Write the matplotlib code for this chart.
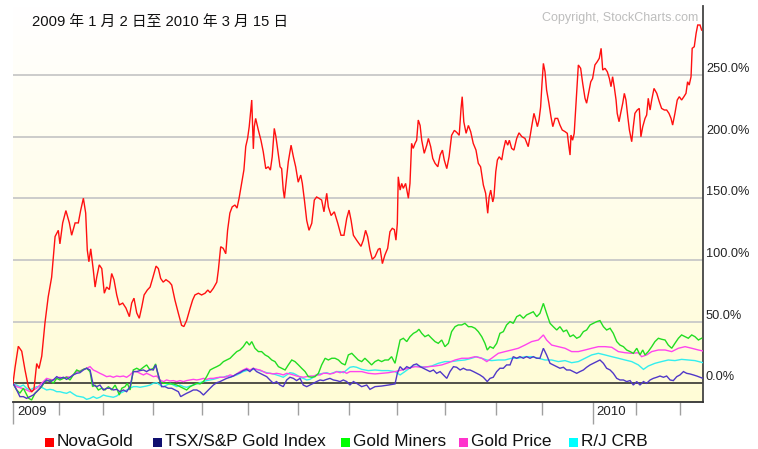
import numpy as np
import matplotlib
matplotlib.use("Agg")
import matplotlib.pyplot as plt
from matplotlib.patches import Rectangle
import matplotlib.transforms as mtransforms

plt.rcParams['font.family'] = ['Liberation Sans', 'Noto Sans CJK SC', 'DejaVu Sans']

# ---------------- data ----------------
title_text = "2009 年 1 月 2 日至 2010 年 3 月 15 日"
copyright_text = "Copyright, StockCharts.com"
series_names = ["NovaGold", "TSX/S&P Gold Index", "Gold Miners", "Gold Price", "R/J CRB"]
line_colors = ["#ff1010", "#5038c8", "#22dd22", "#ff44ee", "#33eeee"]
legend_colors = ["#ff0000", "#101070", "#00ff00", "#ff33cc", "#00ffff"]
# trading days per month, Jan 2009 .. Mar 15 2010
month_trading_days = [20, 19, 22, 21, 20, 22, 22, 21, 21, 22, 20, 22, 19, 19, 11]
year_labels = ["2009", "2010"]
year_month_index = [0, 12]
y_ticks = [0, 50, 100, 150, 200, 250]

# (trading day since 2009-01-02, % change)
novagold = [(0,0),(0.9,13),(2.3,30),(3.8,26),(5.2,11),(6.7,-3),(8.1,-7),(9.1,-5),(10.3,16),(11.3,12),(12.5,22),(13.9,49),(15.3,70),(16.8,86),(18.3,119),(19.7,124),(20.4,113),(21.6,130),(23.0,140),(24.5,130),(25.5,120),(27.0,130),(28.4,130),(29.4,140),(30.6,150),(31.6,138),(32.3,108),(33.0,98.5),(33.8,109),(34.9,92),(35.7,78),(36.4,86),(37.5,96),(38.6,93),(39.7,73),(40.7,78),(41.9,76),(42.9,89),(43.9,84),(45.1,71.6),(46.2,63.5),(47.7,65),(49.1,61),(50.6,54),(51.6,65),(52.6,69),(53.8,57),(54.9,52.7),(56.0,62),(57.0,71.6),(58.4,75.6),(59.6,78),(60.7,85),(62.2,95),(63.2,93),(64.2,85),(65.3,82),(66.5,84),(68.0,82),(69.0,79.7),(70.4,67.5),(71.9,56.7),(73.3,47),(74.3,46),(75.5,51),(77.0,60.8),(78.1,67.5),(79.1,71.6),(80.6,73),(82.0,71.6),(83.5,73),(84.7,75.6),(85.7,73.5),(87.1,77),(88.6,82),(89.3,92),(90.3,110.7),(91.4,109.4),(92.5,105),(93.3,124),(94.3,138),(95.3,143),(96.5,144.5),(97.4,142),(98.3,150),(99.4,162),(100.4,173),(101.2,192),(102.0,198.5),(102.7,208),(103.8,229.6),(104.5,190),(104.9,208),(105.5,214.7),(106.7,205),(107.8,197),(108.8,187.7),(109.9,174),(111.0,175.5),(111.9,172.8),(112.7,183.6),(113.6,206.6),(114.3,200),(115.1,189),(116.1,175.5),(116.8,174),(117.5,156.6),(118.0,150),(118.7,162),(119.7,179.6),(120.9,193),(121.9,183.6),(122.9,175.5),(124.0,163),(125.1,168.8),(125.8,162),(126.7,148.5),(127.7,132),(128.7,124),(129.9,129.7),(131.0,148.5),(132.0,151),(133.0,150),(134.2,148.5),(135.2,139),(136.4,154),(137.1,143),(138.3,136),(139.7,139),(141.2,129.7),(142.6,120),(143.9,120),(145.1,133.7),(146.1,140.4),(147.0,132),(148.0,120),(149.4,116),(151.3,111),(152.3,116),(153.3,124),(154.2,118.8),(155.2,108),(156.2,100.5),(157.4,102.6),(158.8,108.6),(159.6,109.4),(160.6,97),(161.7,104),(162.9,109.4),(163.9,122.9),(164.9,125.6),(165.8,124.6),(166.5,116),(167.1,129.7),(167.5,167.4),(168.3,156.6),(169.0,162),(169.7,158),(170.7,162),(171.9,150),(172.6,162),(173.3,194.5),(174.0,190.4),(174.8,194.5),(175.5,197),(176.2,213.4),(177.0,209),(177.7,197),(178.8,186.4),(179.9,193),(180.6,198.5),(181.6,191.8),(182.5,182.3),(183.5,178.3),(184.7,175.5),(185.7,185),(186.7,189),(187.5,181),(188.6,174),(189.6,183.6),(190.7,201),(191.9,205),(192.9,203.4),(194.0,201),(194.8,222.8),(195.3,232.3),(196.0,212),(197.0,202.6),(198.0,209),(199.0,203.9),(200.1,194.5),(201.3,189),(202.3,178.3),(203.3,175.5),(204.5,160.7),(205.5,154),(206.4,137.8),(207.0,151),(207.7,156.6),(208.6,147),(209.1,151),(209.9,171.5),(210.6,181),(211.4,183.6),(212.5,181),(213.2,189),(214.2,197),(215.1,193),(215.8,197),(216.8,190.4),(217.8,189),(219.0,198.5),(220.0,203),(221.2,200),(222.6,198.5),(224.0,191.8),(224.8,200),(225.5,208),(226.5,218.8),(227.3,213.4),(228.0,208),(228.7,213.4),(229.4,224),(230.0,243),(230.6,259.3),(231.3,252.5),(232.0,237.7),(233.0,227),(233.9,216),(234.7,208),(235.7,214.7),(236.8,214.7),(237.8,209.3),(238.8,205.3),(240.0,204),(241.0,202.6),(241.7,191.8),(242.2,185),(242.6,201.2),(243.3,197),(244.0,202.6),(244.8,227),(245.8,258),(246.8,255.3),(247.7,243),(248.7,231),(249.4,227),(250.1,233.6),(251.2,244.4),(252.0,247),(253.0,258),(254.0,260.6),(254.9,263.4),(255.7,271.5),(256.4,253.9),(257.4,255.3),(258.4,252.5),(259.3,247),(260.0,240.4),(260.7,248.5),(261.4,240.4),(262.2,229.6),(262.7,218.8),(263.5,212),(264.2,218.8),(265.1,227),(265.8,235),(266.5,229.6),(267.3,216),(268.0,205.3),(269.0,195.8),(269.7,208),(270.4,218.8),(271.4,221.5),(272.3,222.8),(273.0,199.8),(273.8,208),(274.8,214.7),(275.5,217.4),(276.2,231),(277.0,221.5),(277.7,229.6),(278.7,239),(279.9,235),(281.0,228.2),(282.0,222.8),(283.2,221.5),(284.2,221.5),(285.2,218.8),(286.1,214.7),(286.8,209.3),(287.8,218.8),(288.8,229.6),(289.7,232.3),(290.7,229.6),(291.7,232.3),(292.6,235),(293.3,244.4),(294.0,241.7),(294.8,248.5),(295.3,271.5),(296.2,272.8),(297.0,283.6),(297.7,290.4),(298.7,290.4),(299.4,286.3)]

tsx_gold = [(0,0),(1.6,-5.4),(3.0,-10.8),(4.5,-10.8),(5.9,-12.2),(7.4,-10.8),(8.8,-9.5),(10.3,-6.8),(11.7,-4),(13.2,0),(14.6,2.7),(16.1,1.4),(17.5,2.7),(19.0,5.4),(20.4,4),(21.9,4.9),(23.3,3.2),(24.8,4.9),(26.2,6.8),(27.7,8.1),(29.1,8.6),(30.6,10.8),(32.0,12.2),(33.5,10.8),(34.9,-1.4),(36.4,-2.7),(37.8,-1.4),(39.3,-5.4),(40.7,-4),(42.2,-4),(43.6,-5.4),(45.1,-4.9),(46.5,-6.8),(48.0,-5.4),(49.4,-6.8),(50.9,-2.7),(52.3,9.5),(53.8,9.5),(55.2,10.3),(56.7,10.8),(58.1,9.5),(59.6,11.3),(61.0,10.8),(62.0,14.9),(63.2,6.8),(64.6,-2.7),(66.1,-2.7),(67.5,-4),(69.0,-4),(70.4,-5.4),(71.9,-6.8),(72.9,-10.8),(74.1,-9.5),(75.5,-8.1),(77.0,-6.8),(78.4,-5.4),(79.9,-5.4),(81.3,-6.8),(82.8,-9.5),(84.2,-6.8),(85.7,-4),(87.1,-1.4),(88.6,0.5),(90.0,1.4),(91.5,2.7),(92.9,4),(94.4,4.9),(95.8,5.9),(97.3,7.6),(98.7,8.6),(100.1,10.3),(101.6,11.3),(103.0,9.5),(104.5,12.2),(105.9,9.5),(107.4,8.1),(108.8,6.8),(110.3,5.4),(111.7,2.7),(113.2,0),(114.6,1.4),(116.1,-1.4),(117.5,-2.7),(119.0,2.7),(120.4,4.9),(121.9,4),(123.3,2.2),(124.8,4),(126.2,-1.4),(127.7,-2.7),(129.1,-1.4),(130.6,0),(132.0,1.4),(133.5,2.7),(134.9,2.2),(136.4,3.2),(137.8,4),(139.3,2.7),(140.7,2.2),(142.2,1.4),(143.6,2.7),(145.1,1.4),(146.5,-1.4),(148.0,1.4),(149.4,0),(151.6,-2.7),(153.8,-1.4),(155.2,-4.9),(157.4,-2.7),(160.3,-2.2),(163.2,-1.4),(166.1,-0.5),(167.1,8.1),(168.3,13.5),(169.7,10.8),(171.2,13.5),(172.6,12.2),(174.1,14.9),(175.5,15.7),(177.0,13.5),(178.4,12.2),(179.9,10.8),(181.3,9.5),(182.8,10.8),(184.2,8.1),(185.7,9.5),(187.1,6.8),(188.6,4),(190.0,9.5),(191.5,13.5),(192.9,13),(194.4,10.8),(195.8,12.2),(197.3,10.8),(198.7,10.8),(200.2,9.5),(201.6,8.1),(203.0,6.8),(204.5,4.9),(206.2,1.4),(207.4,4),(208.8,4.9),(210.3,9.5),(211.7,12.2),(213.2,12.2),(214.6,14.9),(216.1,14.9),(217.5,21.6),(219.0,20.3),(220.4,21.6),(221.9,20.3),(223.3,21.6),(224.8,20.3),(226.2,21.6),(227.7,20.3),(229.1,20.3),(230.6,28.4),(232.0,23),(233.5,16.2),(234.9,14.9),(236.4,13.5),(237.8,12.2),(239.3,13),(240.7,10.8),(242.2,10.8),(243.6,9.5),(245.1,8.1),(246.5,9.5),(248.0,10.8),(249.4,13),(250.9,14.9),(252.3,16.2),(253.8,17.6),(255.2,18.9),(256.7,16.2),(258.1,12.2),(259.6,10.8),(261.0,8.1),(262.5,4),(263.9,2.7),(265.4,2.7),(266.8,1.4),(268.3,2.2),(269.7,-1.4),(271.2,1.4),(272.6,-1.4),(274.1,1.4),(275.5,0),(277.0,2.7),(278.4,4),(279.9,4.9),(281.3,5.9),(282.8,4.9),(284.2,5.9),(285.7,2.7),(287.1,2.2),(288.6,5.4),(290.0,6.8),(291.5,9.5),(292.9,8.1),(294.3,7.6),(295.8,6.8),(297.3,5.9),(298.7,4.9),(300.0,4)]

gold_miners = [(0,0),(1.6,-5.4),(3.0,-8),(4.5,-4),(6.7,-12),(8.1,-13.5),(9.6,-8),(11.0,-5.4),(12.5,-2.7),(13.9,1.4),(16.1,2.7),(17.5,0),(19.0,4),(20.4,2.7),(21.9,4),(23.3,4.9),(24.8,2.7),(26.2,6.8),(27.7,10.8),(29.1,9.5),(30.6,11.3),(32.0,12.2),(33.5,9.5),(34.6,-2.7),(35.7,-1.4),(37.1,-5.4),(38.6,-4),(40.0,-5.4),(41.5,-2.7),(42.9,-5.4),(44.4,-1.4),(45.4,-5.4),(46.2,-9.5),(47.3,-4),(48.7,-2.7),(49.7,0),(50.9,-5.4),(52.3,10.8),(53.8,12.2),(55.2,10.8),(56.7,13),(58.1,14.9),(59.6,10.8),(61.0,12.2),(62.0,15.7),(62.9,8.1),(63.9,1.4),(65.4,0),(66.8,0),(68.3,-0.5),(69.7,-0.5),(71.2,-1.4),(72.6,-2.7),(74.1,-4),(75.5,-5.4),(77.0,-2.7),(78.4,-1.4),(79.9,0),(81.3,-0.5),(82.8,1.4),(84.2,5.4),(85.7,10.8),(87.1,12.2),(88.6,13.5),(90.0,14.9),(91.5,17.6),(92.9,18.9),(94.4,20.3),(95.8,23),(97.3,25.7),(98.7,27),(100.1,29.7),(101.6,33.8),(102.8,31),(103.8,33.8),(105.2,28.4),(106.7,25.7),(108.1,25.7),(109.6,23),(111.0,21.6),(112.5,18.9),(113.9,17.6),(115.4,13.5),(116.8,12.2),(118.3,10.8),(119.7,14.9),(121.2,18.9),(122.6,17.6),(124.1,14.9),(125.5,12.2),(127.0,9.5),(128.4,5.4),(129.9,4.9),(131.3,5.4),(132.8,8.1),(134.2,14.9),(135.7,20.3),(137.1,18.9),(138.6,20.3),(140.0,20.3),(141.5,18.9),(142.9,16.2),(144.4,14.9),(145.8,23),(147.3,24.3),(148.7,21.6),(150.1,18.9),(151.6,17.6),(153.0,20.3),(154.5,17.6),(155.9,14.9),(157.4,17.6),(158.8,18.9),(160.3,17.6),(161.7,18.9),(163.2,18.9),(164.6,21.6),(166.1,16.2),(167.2,25.7),(168.3,35.1),(169.7,36.5),(171.2,33.8),(172.6,37.8),(174.1,40.5),(175.5,41.9),(176.5,43.8),(177.7,40.5),(179.1,37.8),(180.6,39.2),(182.0,36.5),(183.5,33.8),(184.9,32.4),(186.4,35.1),(187.8,29.7),(189.3,32.4),(190.7,41.9),(192.2,45.9),(193.6,47.3),(195.1,47.3),(196.5,48.6),(198.0,45.9),(199.4,45.9),(200.9,44.6),(202.3,41.9),(203.8,37.8),(205.2,32.4),(206.2,27),(207.4,29.7),(208.8,28.4),(210.3,32.4),(211.7,40.5),(213.2,41.9),(214.6,47.3),(216.1,50),(217.5,48.6),(219.0,54),(220.4,55.4),(221.9,52.7),(223.3,55.4),(224.8,56.7),(226.2,58),(227.7,54),(229.1,56.7),(230.6,64.8),(232.0,56.7),(233.5,48.6),(234.9,45.9),(236.4,43.2),(237.8,45.9),(239.3,41.9),(240.7,43.2),(242.2,37.8),(243.6,39.2),(245.1,36.5),(246.5,37.8),(248.0,41.9),(249.4,43.2),(250.9,47.3),(252.3,48.6),(253.8,50),(255.2,50.8),(256.7,45.9),(258.1,43.2),(259.6,44.6),(261.0,40.5),(262.5,33.8),(263.9,31),(265.4,29.7),(266.8,27),(268.3,25.7),(269.7,24.3),(271.2,28.4),(272.6,23),(273.8,27),(274.8,23),(276.2,25.7),(277.7,29.7),(279.1,33.8),(280.6,36.5),(282.0,35.7),(283.5,35.1),(284.9,31),(286.4,28.4),(287.8,32.4),(289.3,36.5),(290.7,39.2),(292.2,37.8),(293.6,36.5),(295.1,39.2),(296.5,37.8),(298.0,35.1),(299.4,36.5)]

gold_price = [(0,0),(1.6,-2.7),(3.8,-4),(5.9,-5.4),(7.4,-6.8),(8.8,-5.4),(10.3,-4),(11.7,-1.4),(13.2,1.4),(14.6,4),(16.1,3.2),(17.5,2.7),(19.0,4),(20.4,4.9),(21.9,4),(23.3,5.4),(24.8,4.9),(26.2,6.8),(27.7,9.5),(29.1,10),(30.6,11.3),(32.0,12.2),(33.5,13.5),(34.9,10.8),(36.4,9.5),(37.8,8.1),(39.3,6.8),(40.7,5.4),(42.2,5.9),(43.6,4.9),(45.1,5.9),(46.5,5.4),(48.0,5.9),(49.4,4.9),(50.9,6.8),(52.3,9.5),(53.8,9.5),(55.2,8.1),(56.7,6.8),(58.1,8.1),(59.6,6.8),(61.0,5.4),(62.5,5.9),(63.9,2.7),(65.4,1.4),(66.8,2.7),(68.3,1.9),(69.7,2.2),(71.2,1.4),(72.6,2.2),(74.1,1.4),(75.5,2.2),(77.0,2.7),(78.4,3.2),(79.9,2.7),(81.3,3.2),(82.8,4),(84.2,3.2),(85.7,4),(87.1,4),(88.6,4.6),(90.0,4.9),(91.5,4.9),(92.9,5.4),(94.4,6.8),(95.8,5.9),(97.3,7.6),(98.7,9.5),(100.1,10.8),(101.6,12.2),(103.0,10.8),(104.5,12.2),(105.9,11.3),(107.4,10.8),(108.8,9.5),(110.3,8.1),(111.7,8.1),(113.2,7.6),(114.6,8.1),(116.1,7.6),(117.5,6.8),(119.0,8.1),(120.4,7.6),(121.9,6.8),(123.3,5.9),(124.8,5.4),(126.2,4.9),(127.7,5.4),(129.1,5.9),(130.6,5.9),(132.0,6.8),(133.5,6.8),(134.9,8.1),(136.4,8.1),(137.8,7.6),(139.3,8.1),(140.7,9.5),(142.2,8.6),(143.6,9.5),(145.1,8.1),(146.5,9.5),(148.0,9.5),(149.4,9.5),(151.6,9.5),(154.5,8.1),(157.4,7.6),(160.3,8.1),(163.2,8.6),(166.1,9.5),(169.0,10.8),(171.9,12.2),(174.8,13.5),(177.7,13),(180.6,13.5),(183.5,14),(186.4,14.9),(189.3,16.7),(192.2,18.9),(195.1,20.3),(198.0,20.3),(200.9,21.6),(203.8,20.3),(206.0,17.6),(208.1,20.3),(211.0,24.3),(213.9,25.7),(216.8,27),(219.7,28.4),(222.6,31),(225.5,33.8),(228.4,35.1),(230.6,39.2),(232.0,35.1),(234.2,31),(237.1,29.7),(240.0,28.4),(242.9,25.7),(245.8,25.7),(248.7,27),(251.6,28.4),(254.5,29.7),(257.4,29.7),(260.3,29.2),(263.2,25.7),(266.1,24.8),(269.0,24.3),(271.9,24.8),(273.3,21.6),(275.5,23),(277.7,25.7),(280.6,27),(283.5,27),(286.4,25.7),(289.3,28.4),(292.2,29.7),(295.1,28.4),(298.0,27),(300.0,26.2)]

rj_crb = [(0,0),(1.6,-1.4),(3.0,-2.7),(4.5,-1.4),(5.9,-4),(7.4,-5.4),(8.8,-4),(10.3,-2.7),(11.7,-2.7),(13.2,-4),(14.6,-5.4),(16.1,-4.9),(17.5,-5.4),(19.0,-6.8),(20.4,-6.8),(21.9,-7.6),(23.3,-8.1),(24.8,-6.8),(26.2,-8.6),(27.7,-10.3),(29.1,-10.8),(30.6,-11.3),(32.0,-13),(33.5,-12.2),(34.9,-10.8),(36.4,-12.2),(37.8,-11.3),(39.3,-9.5),(40.7,-10.3),(42.2,-10.8),(43.6,-11.3),(45.1,-10.3),(46.5,-8.1),(48.0,-6.8),(49.4,-5.4),(50.9,-4),(52.3,-2.7),(53.8,-2.7),(55.2,-3.2),(56.7,-2.7),(58.1,-2.2),(59.6,-1.4),(61.0,0),(62.5,0.5),(63.9,-1.4),(65.4,-2.7),(66.8,-1.4),(68.3,0),(69.7,-1.4),(71.2,-2.7),(72.6,-1.4),(74.1,-2.7),(75.5,-3.2),(77.0,-2.2),(78.4,-1.4),(79.9,-0.5),(81.3,0.5),(82.8,1.4),(84.2,2.2),(85.7,2.7),(87.1,3.2),(88.6,4),(90.0,4.9),(91.5,4.9),(92.9,5.9),(94.4,4.9),(95.8,5.9),(97.3,6.8),(98.7,8.1),(100.1,9.5),(101.6,10.3),(103.0,10.8),(104.5,11.3),(105.9,11.3),(107.4,10.3),(108.8,9.5),(110.3,8.6),(111.7,8.1),(113.2,7.6),(114.6,6.8),(116.1,5.9),(117.5,4.9),(119.0,6.8),(120.4,8.6),(121.9,8.1),(123.3,6.8),(124.8,4.9),(126.2,4),(127.7,2.7),(129.1,3.2),(130.6,4.9),(132.0,6.8),(133.5,7.6),(134.9,8.1),(136.4,8.6),(137.8,7.6),(139.3,8.6),(140.7,9.5),(142.2,9.5),(143.6,8.6),(145.1,10.8),(146.5,13),(148.0,13.5),(149.4,13),(151.6,11.3),(154.5,10.3),(157.4,10.8),(160.3,10.3),(163.2,10.3),(166.1,9.5),(168.3,6.8),(170.4,9.5),(173.3,13.5),(176.2,14),(179.1,13),(182.0,14),(184.9,16.2),(187.8,17.6),(190.7,17.6),(193.6,18.4),(196.5,18.9),(199.4,20.3),(201.6,21.6),(203.8,20.3),(206.0,18.9),(208.1,18.4),(211.0,18.9),(213.9,18.9),(216.8,20.3),(219.7,20.3),(222.6,21.6),(225.5,21.6),(228.4,20.3),(231.3,18.9),(234.2,18.9),(237.1,17.6),(240.0,18.4),(242.9,16.7),(245.8,17.6),(248.7,20.3),(251.6,23),(254.5,24.3),(257.4,23),(260.3,21.6),(263.2,20.3),(266.1,18.9),(269.0,17.6),(271.9,14.9),(274.1,11.3),(276.2,14),(279.1,16.2),(282.0,17.6),(284.9,18.9),(287.8,18.4),(290.7,19.4),(293.6,18.9),(296.5,18.4),(300.0,16.7)]

# ---------------- figure ----------------
W, H, DPI = 758, 449, 100
fig = plt.figure(figsize=(W / DPI, H / DPI), dpi=DPI)
fig.patch.set_facecolor("white")

ax_left, ax_right, ax_top, ax_bottom = 13, 703, 6, 402
ax = fig.add_axes([ax_left / W, 1 - ax_bottom / H, (ax_right - ax_left) / W, (ax_bottom - ax_top) / H])
ax.set_xlim(0, 300)
ax.set_ylim(-15.15, 305.8)

# background gradient (white top -> pale yellow bottom)
grad = np.linspace(0, 1, 256)[:, None]
top_c = np.array([255, 255, 255]) / 255.0
bot_c = np.array([255, 252, 214]) / 255.0
img = top_c[None, None, :] * (1 - grad[:, :, None]) + bot_c[None, None, :] * grad[:, :, None]
ax.imshow(img, extent=[0, 1, 0, 1], transform=ax.transAxes, aspect="auto", zorder=0)
ax.set_facecolor("white")

# gridlines
for v in y_ticks:
    if v == 0:
        ax.axhline(v, color="#222222", lw=1.1, zorder=2)
    else:
        ax.axhline(v, color="#c8c8c8", lw=1.3, zorder=1)

# series
series = [novagold, tsx_gold, gold_miners, gold_price, rj_crb]
draw_order = [4, 3, 2, 1, 0]
for i in draw_order:
    d = np.array(series[i], dtype=float)
    ax.plot(d[:, 0], d[:, 1], color=line_colors[i], lw=1.0, zorder=3 + (4 - i), solid_joinstyle="miter")

# spines
for s in ["left", "top"]:
    ax.spines[s].set_visible(False)
ax.spines["bottom"].set_color("#333333")
ax.spines["bottom"].set_linewidth(1.3)
ax.spines["right"].set_color("#444444")
ax.spines["right"].set_linewidth(1.3)

# x ticks: month starts (minor), year starts (major)
month_starts = np.concatenate([[0], np.cumsum(month_trading_days)[:-1]])
year_starts = [month_starts[k] for k in year_month_index]
ax.set_xticks(year_starts)
ax.set_xticks([m for m in month_starts if m not in year_starts], minor=True)
ax.tick_params(axis="x", which="major", length=16, width=1.0, color="#a0a0a0", labelbottom=False)
ax.tick_params(axis="x", which="minor", length=9, width=1.0, color="#a0a0a0")
ax.set_yticks([])
for xs, lab in zip(year_starts, year_labels):
    ax.annotate(lab, xy=(xs, 0), xycoords=("data", "axes fraction"),
                xytext=(3, -7), textcoords="offset points",
                ha="left", va="center", fontsize=9.5, color="#222222")

# y labels on right
trans = mtransforms.blended_transform_factory(ax.transAxes, ax.transData)
trans = mtransforms.offset_copy(trans, fig=fig, x=3, y=3, units="dots")
for v in y_ticks:
    ax.text(1, v, f"{v:.1f}%", transform=trans, ha="left", va="baseline",
            fontsize=9.2, color="#222222")

# title and copyright
fig.text(32 / W, 1 - 22 / H, title_text, ha="left", va="center", fontsize=10.6, color="#111111")
fig.text(698 / W, 1 - 18 / H, copyright_text, ha="right", va="center", fontsize=9, color="#bdbdbd")

# legend
legend_square_x = [45, 153, 341, 459, 569]
legend_y = 442
sq = 9
for x0, name, col in zip(legend_square_x, series_names, legend_colors):
    fig.patches.append(Rectangle((x0 / W, 1 - (legend_y + sq / 2) / H), sq / W, sq / H,
                                 transform=fig.transFigure, facecolor=col, edgecolor="none"))
    fig.text((x0 + sq + 3) / W, 1 - legend_y / H, name, ha="left", va="center",
             fontsize=12.4, color="#111111")

fig.savefig("out.png", dpi=DPI, facecolor="white")
